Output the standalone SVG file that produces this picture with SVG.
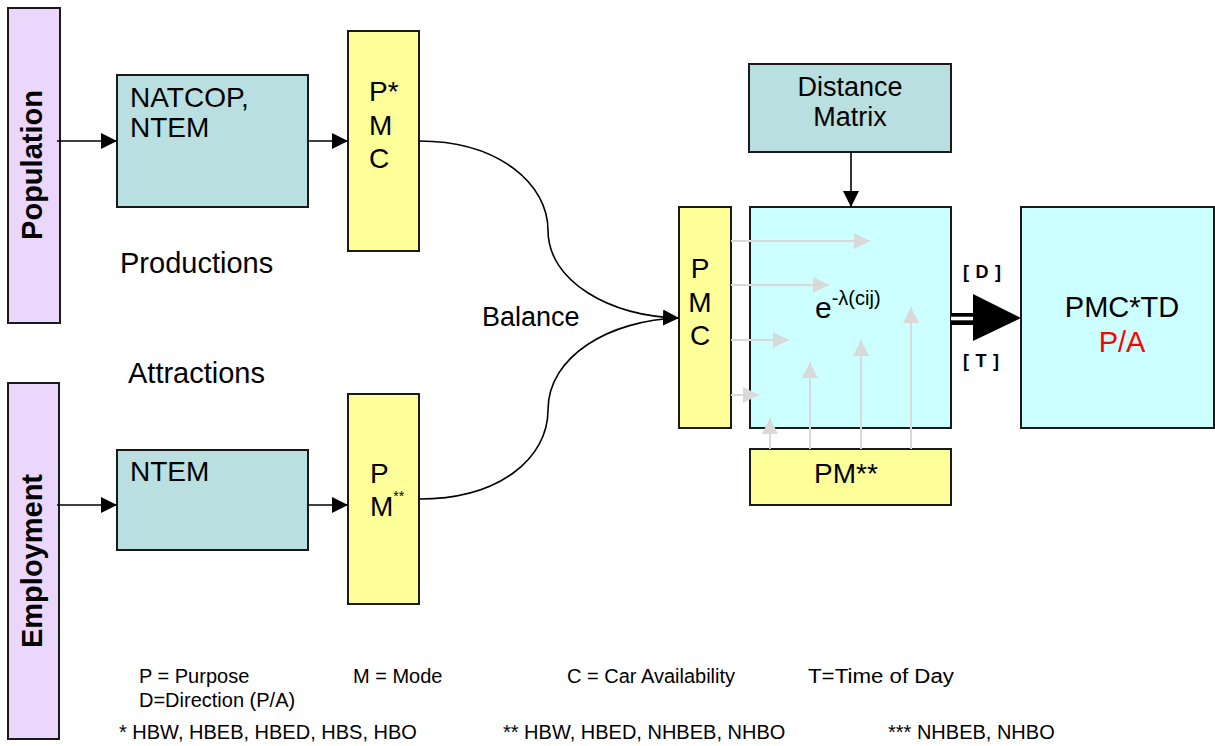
<svg xmlns="http://www.w3.org/2000/svg" width="1215" height="746" viewBox="0 0 1215 746">
<defs>
<style>
text{font-family:"Liberation Sans",Arial,sans-serif;fill:#000}
.box{stroke:#1a1a1a;stroke-width:2}
.purple{fill:#EBD7FB}
.teal{fill:#B9DFE1}
.yellow{fill:#FFFF99}
.cyan{fill:#CCFFFF}
.conn{fill:none;stroke:#000;stroke-width:1.6}
.gray{fill:none;stroke:#D9D9D9;stroke-width:2}
.t27{font-size:27px}
.t28{font-size:28px}
.t29{font-size:29px}
.side{font-size:29px;font-weight:bold}
.leg{font-size:20px}
.dt{font-size:18px;font-weight:bold}
</style>
<marker id="ah" viewBox="0 0 16 16" refX="16" refY="8" markerWidth="16" markerHeight="16" markerUnits="userSpaceOnUse" orient="auto"><path d="M0,0 L16,8 L0,16 Z" fill="#000"/></marker>
<marker id="gh" viewBox="0 0 16 16" refX="16" refY="8" markerWidth="16" markerHeight="16" markerUnits="userSpaceOnUse" orient="auto"><path d="M0,0 L16,8 L0,16 Z" fill="#D9D9D9"/></marker>
</defs>
<rect width="1215" height="746" fill="#fff"/>

<g id="population"><rect class="box purple" x="8" y="8" width="52" height="315"/><text class="side" transform="translate(42,165) rotate(-90)" text-anchor="middle">Population</text></g>
<g id="employment"><rect class="box purple" x="8" y="383" width="51" height="356"/><text class="side" transform="translate(42,561) rotate(-90)" text-anchor="middle">Employment</text></g>

<g id="natcop"><rect class="box teal" x="117" y="75" width="191" height="132"/><text class="t28" x="130" y="107">NATCOP,</text><text class="t28" x="130" y="137">NTEM</text></g>
<g id="ntem"><rect class="box teal" x="117" y="450" width="191" height="100"/><text class="t28" x="130" y="481">NTEM</text></g>

<g id="pmc1"><rect class="box yellow" x="348" y="31" width="71" height="220"/><text class="t28" x="369" y="101">P*</text><text class="t28" x="369" y="135">M</text><text class="t28" x="369" y="168">C</text></g>
<g id="pm1"><rect class="box yellow" x="348" y="394" width="71" height="210"/><text class="t28" x="370" y="483">P</text><text class="t28" x="370" y="516">M<tspan font-size="14" dy="-15">**</tspan></text></g>

<g id="labels"><text class="t29" x="120" y="273">Productions</text><text class="t29" x="128" y="383">Attractions</text><text class="t27" x="482" y="326">Balance</text></g>

<g id="distance"><rect class="box teal" x="749" y="64" width="202" height="88"/><text class="t27" x="850" y="96" text-anchor="middle">Distance</text><text class="t27" x="850" y="126" text-anchor="middle">Matrix</text></g>

<g id="pmc2"><rect class="box yellow" x="679" y="207" width="52" height="221"/><text class="t28" x="700" y="278" text-anchor="middle">P</text><text class="t28" x="700" y="312" text-anchor="middle">M</text><text class="t28" x="700" y="345" text-anchor="middle">C</text></g>

<g id="gravity"><rect class="box cyan" x="750" y="207" width="201" height="221"/><text x="815" y="318" font-size="30">e<tspan font-size="20" dy="-13">-λ(cij)</tspan></text></g>

<g id="pm2"><rect class="box yellow" x="750" y="449" width="201" height="56"/><text class="t28" x="846" y="483" text-anchor="middle">PM**</text></g>

<g id="result"><rect class="box cyan" x="1021" y="207" width="193" height="221"/><text class="t29" x="1122" y="317" text-anchor="middle">PMC*TD</text><text class="t29" x="1122" y="352" text-anchor="middle" style="fill:#FF0000">P/A</text></g>

<g id="connectors">
<line class="conn" x1="57" y1="141" x2="117" y2="141" marker-end="url(#ah)"/>
<line class="conn" x1="308" y1="141" x2="348" y2="141" marker-end="url(#ah)"/>
<line class="conn" x1="57" y1="505" x2="117" y2="505" marker-end="url(#ah)"/>
<line class="conn" x1="308" y1="505" x2="348" y2="505" marker-end="url(#ah)"/>
<path class="conn" d="M419,141 C500,141 548,185 548,230 C548,282 610,316 679,318" marker-end="url(#ah)"/>
<path class="conn" d="M419,499 C500,499 548,458 548,410 C548,356 610,320 679,318"/>
<line class="conn" x1="851" y1="152" x2="851" y2="207" marker-end="url(#ah)"/>
<line class="gray" x1="731" y1="241" x2="870" y2="241" marker-end="url(#gh)"/>
<line class="gray" x1="731" y1="285" x2="829" y2="285" marker-end="url(#gh)"/>
<line class="gray" x1="731" y1="340" x2="789" y2="340" marker-end="url(#gh)"/>
<line class="gray" x1="731" y1="395" x2="759" y2="395" marker-end="url(#gh)"/>
<line class="gray" x1="770" y1="449" x2="770" y2="418" marker-end="url(#gh)"/>
<line class="gray" x1="810" y1="449" x2="810" y2="362" marker-end="url(#gh)"/>
<line class="gray" x1="861" y1="449" x2="861" y2="340" marker-end="url(#gh)"/>
<line class="gray" x1="911" y1="449" x2="911" y2="307" marker-end="url(#gh)"/>
<rect x="951" y="313" width="24" height="12" fill="#000"/>
<rect x="951" y="316.7" width="24" height="3.6" fill="#fff"/>
<path d="M973,294 L1021,318 L973,341 Z" fill="#000"/>
<text class="dt" x="963" y="278" textLength="38" lengthAdjust="spacing">[ D ]</text>
<text class="dt" x="963" y="367" textLength="36" lengthAdjust="spacing">[ T ]</text>
</g>

<g id="legend">
<text class="leg" x="139" y="683">P = Purpose</text>
<text class="leg" x="353" y="683">M = Mode</text>
<text class="leg" x="567" y="683">C = Car Availability</text>
<text class="leg" x="808" y="683" textLength="146" lengthAdjust="spacingAndGlyphs">T=Time of Day</text>
<text class="leg" x="139" y="707">D=Direction (P/A)</text>
<text class="leg" x="119" y="739">* HBW, HBEB, HBED, HBS, HBO</text>
<text class="leg" x="503" y="739">** HBW, HBED, NHBEB, NHBO</text>
<text class="leg" x="888" y="739">*** NHBEB, NHBO</text>
</g>
</svg>
